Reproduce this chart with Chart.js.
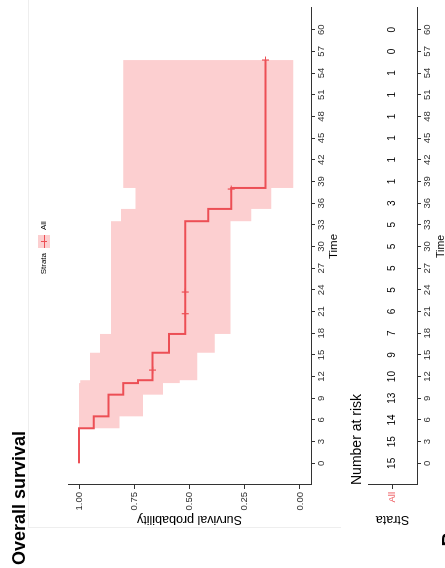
<!DOCTYPE html>
<html><head><meta charset="utf-8">
<script src="https://cdn.jsdelivr.net/npm/chart.js@4.4.1/dist/chart.umd.min.js"></script>
<style>
html,body{margin:0;padding:0;background:#fff;overflow:hidden;width:445px;height:568px;}
#rot{position:absolute;left:0;top:0;width:568px;height:445px;transform-origin:0 0;transform:translate(0px,568px) rotate(-90deg);overflow:hidden;background:#fff;font-family:'Liberation Sans',Arial,sans-serif;color:#000;}
.abs{position:absolute;white-space:nowrap;}
</style></head><body>
<div id="rot">
  <div class="abs" style="left:40px;top:28px;width:540px;height:312px;border-left:1px solid #eeeeee;border-top:1px solid #eeeeee;"></div>
  <canvas id="km" width="568" height="350" style="position:absolute;left:0;top:0;"></canvas>
  <canvas id="risk" width="568" height="110" style="position:absolute;left:0;top:350px;"></canvas>
  <div class="abs" style="left:3px;top:7.7px;font-weight:bold;font-size:18px;line-height:22px;">Overall survival</div>
  <div class="abs" id="legTitle" style="left:265px;width:50px;text-align:right;top:39px;font-size:8px;line-height:10px;">Strata</div>
  <div class="abs" style="left:320px;top:38px;width:13px;height:12px;background:#fccfd0;">
    <div class="abs" id="legLine" style="left:0;top:5.5px;width:13px;height:1.5px;"></div>
    <div class="abs" id="legTick" style="left:6px;top:3px;width:1.2px;height:6px;"></div>
  </div>
  <div class="abs" id="legLabel" style="left:338px;top:39px;font-size:8px;line-height:10px;">All</div>
  <div class="abs" style="left:83px;top:347.4px;font-size:14px;line-height:18px;">Number at risk</div>
  <div class="abs" style="left:21.5px;top:439.4px;font-weight:bold;font-size:20px;line-height:20px;">B</div>
</div>
<script>
// ---- data ----
const strata = ['All'];
const kmTimes = [0, 4.85, 6.5, 9.5, 11.1, 11.5, 15.3, 17.9, 33.5, 35.2, 38.1, 55.8];
const kmSurv  = [1, 0.933, 0.867, 0.8, 0.733, 0.667, 0.593, 0.519, 0.415, 0.311, 0.156, 0.156];
const kmUpper = [1, 1, 1, 1, 0.995, 0.95, 0.905, 0.855, 0.81, 0.745, 0.8, 0.8];
const kmLower = [1, 0.817, 0.71, 0.62, 0.544, 0.465, 0.386, 0.314, 0.22, 0.13, 0.03, 0.03];
const censorTimes = [12.9, 20.7, 23.7, 37.95, 55.8];
const censorSurv  = [0.667, 0.519, 0.519, 0.311, 0.156];
const timeTicks = [0,3,6,9,12,15,18,21,24,27,30,33,36,39,42,45,48,51,54,57,60];
const probTicks = [0, 0.25, 0.5, 0.75, 1];
const nRisk = [15,15,14,13,10,9,7,6,5,5,5,5,3,1,1,1,1,1,1,0,0];

const RED = '#ec4f55';
const BAND = '#fccfd0';
const AXIS = '#333333';
const FONT = "'Liberation Sans', Arial, sans-serif";
Chart.defaults.font.family = FONT;
Chart.defaults.color = '#333';

document.getElementById('legLine').style.background = RED;
document.getElementById('legTick').style.background = RED;
document.getElementById('legLabel').style.color = '#000';

const pts = (xs, ys) => xs.map((t, i) => ({x: t, y: ys[i]}));

function xScale(h, titleSize, padBottom) {
  return {
    type: 'linear', min: -3, max: 63,
    afterBuildTicks: s => { s.ticks = timeTicks.map(v => ({value: v})); },
    afterFit: s => { s.height = h; },
    grid: {drawOnChartArea: false, drawTicks: true, tickLength: 4, tickColor: AXIS, tickWidth: 1},
    border: {display: true, color: AXIS, width: 1},
    ticks: {font: {size: 9.5}, color: '#333', padding: 1, maxRotation: 0, autoSkip: false},
    title: {display: true, text: 'Time', font: {size: titleSize}, color: '#000', padding: {top: 0, bottom: padBottom}}
  };
}

new Chart(document.getElementById('km'), {
  type: 'line',
  data: {datasets: [
    {label: 'upper', data: pts(kmTimes, kmUpper), stepped: true, borderColor: 'rgba(0,0,0,0)', borderWidth: 0, pointRadius: 0, fill: false, order: 3},
    {label: 'lower', data: pts(kmTimes, kmLower), stepped: true, borderColor: 'rgba(0,0,0,0)', borderWidth: 0, pointRadius: 0, fill: '-1', backgroundColor: BAND, order: 2},
    {label: strata[0], data: pts(kmTimes, kmSurv), stepped: true, borderColor: RED, borderWidth: 2, pointRadius: 0, fill: false, order: 1},
    {type: 'scatter', label: 'censor', data: pts(censorTimes, censorSurv), pointStyle: 'cross', pointRadius: 3.5, borderColor: RED, borderWidth: 1.2, showLine: false, order: 0}
  ]},
  options: {
    responsive: false, animation: false, devicePixelRatio: 1,
    layout: {padding: {top: 68, right: 8, left: 0, bottom: 0}},
    plugins: {legend: {display: false}, tooltip: {enabled: false}},
    scales: {
      x: xScale(39, 11.5, 9),
      y: {
        type: 'linear', min: -0.05, max: 1.05,
        afterBuildTicks: s => { s.ticks = probTicks.map(v => ({value: v})); },
        afterFit: s => { s.width = 83; },
        grid: {drawOnChartArea: false, drawTicks: true, tickLength: 4, tickColor: AXIS, tickWidth: 1},
        border: {display: true, color: AXIS, width: 1},
        ticks: {font: {size: 9.5}, color: '#333', padding: 3, callback: v => Number(v).toFixed(2)},
        title: {display: true, text: 'Survival probability', font: {size: 12.5}, color: '#000', padding: {top: 41, bottom: 0}}
      }
    }
  }
});

const riskText = {
  id: 'riskText',
  afterDatasetsDraw(chart) {
    const {ctx} = chart;
    const x = chart.scales.x, y = chart.scales.y;
    ctx.save();
    ctx.font = '10px ' + FONT;
    ctx.fillStyle = '#000';
    ctx.textAlign = 'center';
    ctx.textBaseline = 'middle';
    chart.data.datasets[0].data.forEach(p => {
      ctx.fillText(String(p.n), x.getPixelForValue(p.x), y.getPixelForValue(p.y));
    });
    ctx.restore();
  }
};

new Chart(document.getElementById('risk'), {
  type: 'scatter',
  data: {datasets: [
    {label: strata[0], data: timeTicks.map((t, i) => ({x: t, y: 0.5, n: nRisk[i]})), pointRadius: 0}
  ]},
  options: {
    responsive: false, animation: false, devicePixelRatio: 1,
    layout: {padding: {top: 18, right: 8, left: 0, bottom: 0}},
    plugins: {legend: {display: false}, tooltip: {enabled: false}},
    scales: {
      x: xScale(43, 10.5, 13),
      y: {
        type: 'linear', min: 0, max: 1,
        afterBuildTicks: s => { s.ticks = [{value: 0.5}]; },
        afterFit: s => { s.width = 83; },
        grid: {drawOnChartArea: false, drawTicks: true, tickLength: 4, tickColor: AXIS, tickWidth: 1},
        border: {display: true, color: AXIS, width: 1},
        ticks: {font: {size: 9.5}, color: RED, padding: 3, callback: () => strata[0]},
        title: {display: true, text: 'Strata', font: {size: 12.5}, color: '#000', padding: {top: 41, bottom: 0}}
      }
    }
  },
  plugins: [riskText]
});
</script>
</body></html>
